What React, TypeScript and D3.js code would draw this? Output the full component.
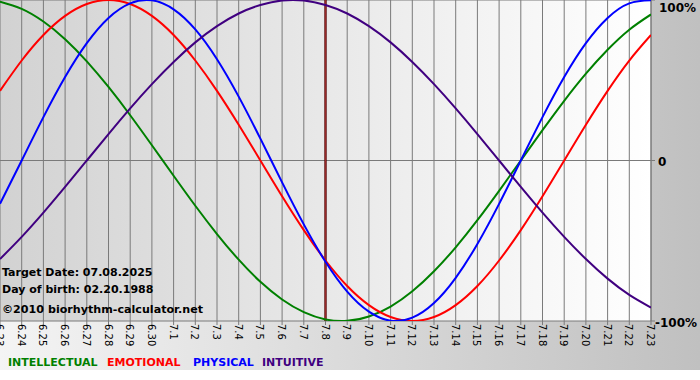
import React from "react";
import * as d3 from "d3";

const dayLabels = ["6.23","6.24","6.25","6.26","6.27","6.28","6.29","6.30","7.1","7.2","7.3","7.4","7.5","7.6","7.7","7.8","7.9","7.10","7.11","7.12","7.13","7.14","7.15","7.16","7.17","7.18","7.19","7.20","7.21","7.22","7.23"];

const intellectual = [0.990,0.945,0.866,0.756,0.618,0.458,0.282,0.095,-0.095,-0.282,-0.458,-0.618,-0.756,-0.866,-0.945,-0.990,-0.999,-0.972,-0.910,-0.815,-0.690,-0.541,-0.372,-0.189,0,0.189,0.372,0.541,0.690,0.815,0.910];
const emotional = [0.434,0.623,0.782,0.901,0.975,1.000,0.975,0.901,0.782,0.623,0.434,0.223,0,-0.223,-0.434,-0.623,-0.782,-0.901,-0.975,-1.000,-0.975,-0.901,-0.782,-0.623,-0.434,-0.223,0,0.223,0.434,0.623,0.782];
const physical = [-0.270,0,0.270,0.520,0.731,0.888,0.979,0.998,0.942,0.817,0.631,0.398,0.136,-0.136,-0.398,-0.631,-0.817,-0.942,-0.998,-0.979,-0.888,-0.731,-0.520,-0.270,0,0.270,0.520,0.731,0.888,0.979,0.998];
const intuitive = [-0.614,-0.476,-0.325,-0.165,0,0.165,0.325,0.476,0.614,0.736,0.837,0.916,0.969,0.997,0.997,0.969,0.916,0.837,0.736,0.614,0.476,0.325,0.165,0,-0.165,-0.325,-0.476,-0.614,-0.736,-0.837,-0.916];

const seriesNames = ["INTELLECTUAL","EMOTIONAL","PHYSICAL","INTUITIVE"];
const seriesColors = ["#008000","#ff0000","#0000ff","#400080"];
const seriesData = [intellectual, emotional, physical, intuitive];
const yTickValues = [1, 0, -1];
const yTickLabels = ["100%", "0", "-100%"];
const targetIndex = 15;
const infoLines = ["Target Date: 07.08.2025", "Day of birth: 02.20.1988"];
const copyright = "\u00A92010 biorhythm-calculator.net";

const W = 700, H = 370;
const PW = 651, PH = 321;

export default function App() {
  const x = d3.scaleLinear().domain([0, dayLabels.length - 1]).range([0, PW]);
  const y = d3.scaleLinear().domain([-1, 1]).range([PH, 0]);
  const line = d3.line<number>().x((_, i) => x(i)).y((d) => y(d)).curve(d3.curveNatural);
  const legendX = [8, 107, 193, 262];
  const font = "'DejaVu Sans', Verdana, sans-serif";
  return (
    <svg width={W} height={380} style={{ position: "absolute", left: 0, top: 0, display: "block" }}>
      <defs>
        <linearGradient id="outer" x1="0" x2="1" y1="0" y2="0">
          <stop offset="0" stopColor="#f4f4f4" />
          <stop offset="1" stopColor="#c0c0c0" />
        </linearGradient>
        <linearGradient id="plot" x1="0" x2="1" y1="0" y2="0">
          <stop offset="0" stopColor="#d2d2d2" />
          <stop offset="1" stopColor="#ffffff" />
        </linearGradient>
        <clipPath id="clip"><rect x={0} y={0} width={PW} height={PH} /></clipPath>
      </defs>
      <rect x={0} y={0} width={W} height={380} fill="#ffffff" />
      <rect x={0} y={0} width={W} height={H} fill="url(#outer)" />
      <rect x={0} y={0} width={PW} height={PH} fill="url(#plot)" />
      {dayLabels.map((lab, i) => (
        <g key={lab}>
          <line x1={x(i)} x2={x(i)} y1={0} y2={PH + 4} stroke="#7a7a7a" strokeWidth={1} />
          <text transform={`translate(${x(i) - 4},${PH + 3}) rotate(90)`} fontFamily={font} fontSize={10} fill="#000">{lab}</text>
        </g>
      ))}
      {yTickValues.map((v, i) => (
        <g key={v}>
          <line x1={0} x2={PW + 4} y1={y(v)} y2={y(v)} stroke="#7a7a7a" strokeWidth={1} />
          <text x={v === 0 ? 658 : v > 0 ? 659 : 655} y={y(v) + (v > 0 ? 12 : v === 0 ? 5 : 6)} fontFamily={font} fontSize={12} fontWeight="bold" fill="#000">{yTickLabels[i]}</text>
        </g>
      ))}
      <line x1={PW} x2={PW} y1={0} y2={PH} stroke="#7a7a7a" strokeWidth={1} />
      <line x1={x(targetIndex)} x2={x(targetIndex)} y1={0} y2={PH} stroke="#5a0a0a" strokeWidth={2.4} />
      <line x1={x(targetIndex)} x2={x(targetIndex)} y1={0} y2={PH} stroke="#a83030" strokeWidth={0.8} />
      <g clipPath="url(#clip)">
        {seriesData.map((s, i) => (
          <path key={seriesNames[i]} d={line(s) || ""} fill="none" stroke={seriesColors[i]} strokeWidth={2} />
        ))}
      </g>
      {infoLines.map((t, i) => (
        <text key={t} x={2} y={276 + i * 17} fontFamily={font} fontSize={11} fontWeight="bold" fill="#000">{t}</text>
      ))}
      <text x={2} y={313} fontFamily={font} fontSize={11} fontWeight="bold" fill="#000" textLength={201} lengthAdjust="spacingAndGlyphs">{copyright}</text>
      {seriesNames.map((n, i) => (
        <text key={n} x={legendX[i]} y={366} fontFamily={font} fontSize={11} fontWeight="bold" fill={seriesColors[i]}>{n}</text>
      ))}
    </svg>
  );
}
